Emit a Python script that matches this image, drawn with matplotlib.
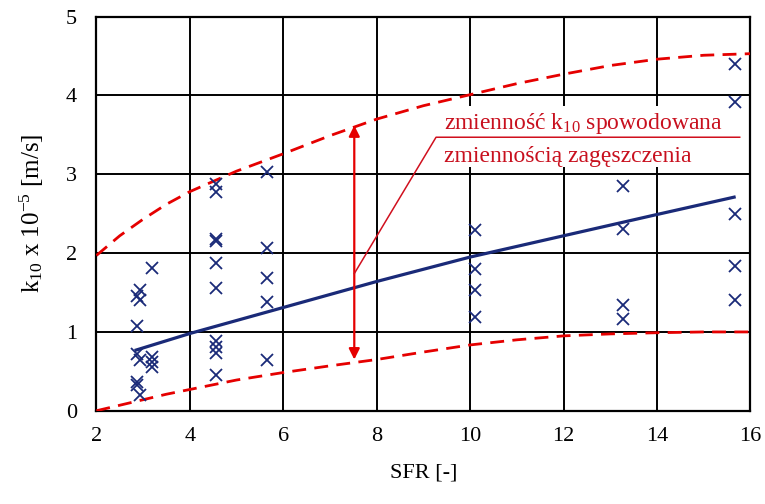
import matplotlib
matplotlib.use('Agg')
import matplotlib.pyplot as plt
from matplotlib.patches import Rectangle

plt.rcParams['font.family'] = 'Liberation Serif'
plt.rcParams['mathtext.fontset'] = 'custom'
plt.rcParams['mathtext.rm'] = 'Liberation Serif'
plt.rcParams['mathtext.it'] = 'Liberation Serif:italic'

# measured points
x_pts = [2.86, 2.86, 2.86, 2.86, 2.86,
         2.93, 2.93, 2.93, 2.93,
         3.18, 3.18, 3.18, 3.18,
         4.57, 4.57, 4.57, 4.57, 4.57, 4.57, 4.57, 4.57, 4.57, 4.57,
         5.66, 5.66, 5.66, 5.66, 5.66,
         10.1, 10.1, 10.1, 10.1,
         13.27, 13.27, 13.27, 13.27,
         15.66, 15.66, 15.66, 15.66, 15.66]
y_pts = [1.45, 1.07, 0.72, 0.37, 0.33,
         1.53, 1.40, 0.65, 0.20,
         1.81, 0.68, 0.62, 0.55,
         2.88, 2.78, 2.18, 2.15, 1.87, 1.56, 0.88, 0.81, 0.73, 0.46,
         3.03, 2.07, 1.69, 1.38, 0.65,
         2.29, 1.80, 1.53, 1.19,
         2.85, 2.30, 1.34, 1.17,
         4.40, 3.92, 2.49, 1.84, 1.41]

# fitted trend
x_fit = [2.85, 4, 6, 8, 10, 12, 14, 15.65]
y_fit = [0.77, 0.98, 1.31, 1.64, 1.95, 2.22, 2.49, 2.71]

# envelope curves
x_env = [2, 2.5, 3, 3.5, 4, 5, 6, 7, 8, 9, 10, 11, 12, 13, 14, 15, 16]
y_upper = [1.97, 2.22, 2.43, 2.62, 2.78, 3.04, 3.26, 3.49, 3.70, 3.87, 4.01,
           4.15, 4.27, 4.38, 4.46, 4.51, 4.53]
y_lower = [0.0, 0.07, 0.14, 0.21, 0.27, 0.39, 0.485, 0.57, 0.65, 0.745, 0.835,
           0.90, 0.95, 0.975, 0.99, 1.0, 1.0]

red = '#e50000'
navy = '#1a2a78'

fig = plt.figure(figsize=(7.65, 5.04), dpi=100)
ax = fig.add_axes([0.126, 0.185, 0.855, 0.782])

ax.plot(x_env, y_upper, color=red, lw=2.0, dashes=(5, 3), zorder=4)
ax.plot(x_env, y_lower, color=red, lw=2.0, dashes=(5, 3), zorder=4)
ax.plot(x_fit, y_fit, color=navy, lw=2.3, zorder=5)
ax.plot(x_pts, y_pts, linestyle='none', marker='x', color=navy,
        markersize=8, mew=1.3, zorder=6)

# vertical double arrow
ax.annotate('', xy=(7.52, 3.62), xytext=(7.52, 0.65),
            arrowprops=dict(arrowstyle='<|-|>', color=red, lw=1.6,
                            mutation_scale=16, shrinkA=0, shrinkB=0),
            zorder=7)

# label with white background
ax.add_patch(Rectangle((9.35, 3.09), 6.45, 0.78, fc='white', ec='none', zorder=3))
ax.text(9.45, 3.58, 'zmienność k$_{10}$ spowodowana', color='#c8101e',
        fontsize=17, va='baseline', ha='left', zorder=6)
ax.text(9.45, 3.15, 'zmiennością zagęszczenia', color='#c8101e',
        fontsize=17, va='baseline', ha='left', zorder=6)
ax.plot([7.52, 9.27, 15.77], [1.74, 3.47, 3.47], color='#d0101e', lw=1.1, zorder=8)

ax.set_xlim(2, 16)
ax.set_ylim(0, 5)
ax.set_xticks(range(2, 17, 2))
ax.set_yticks(range(0, 6))
ax.grid(True, color='black', lw=1.4)
ax.set_axisbelow(True)
for s in ax.spines.values():
    s.set_linewidth(1.6)
ax.tick_params(axis='x', length=0, labelsize=16, pad=12)
ax.tick_params(axis='y', length=0, labelsize=16, pad=14)

ax.set_xlabel('SFR [-]', fontsize=16, labelpad=12)
ax.set_ylabel('k$_{10}$ x 10$^{-5}$ [m/s]', fontsize=18, labelpad=14)

fig.savefig('out.png', dpi=100)
